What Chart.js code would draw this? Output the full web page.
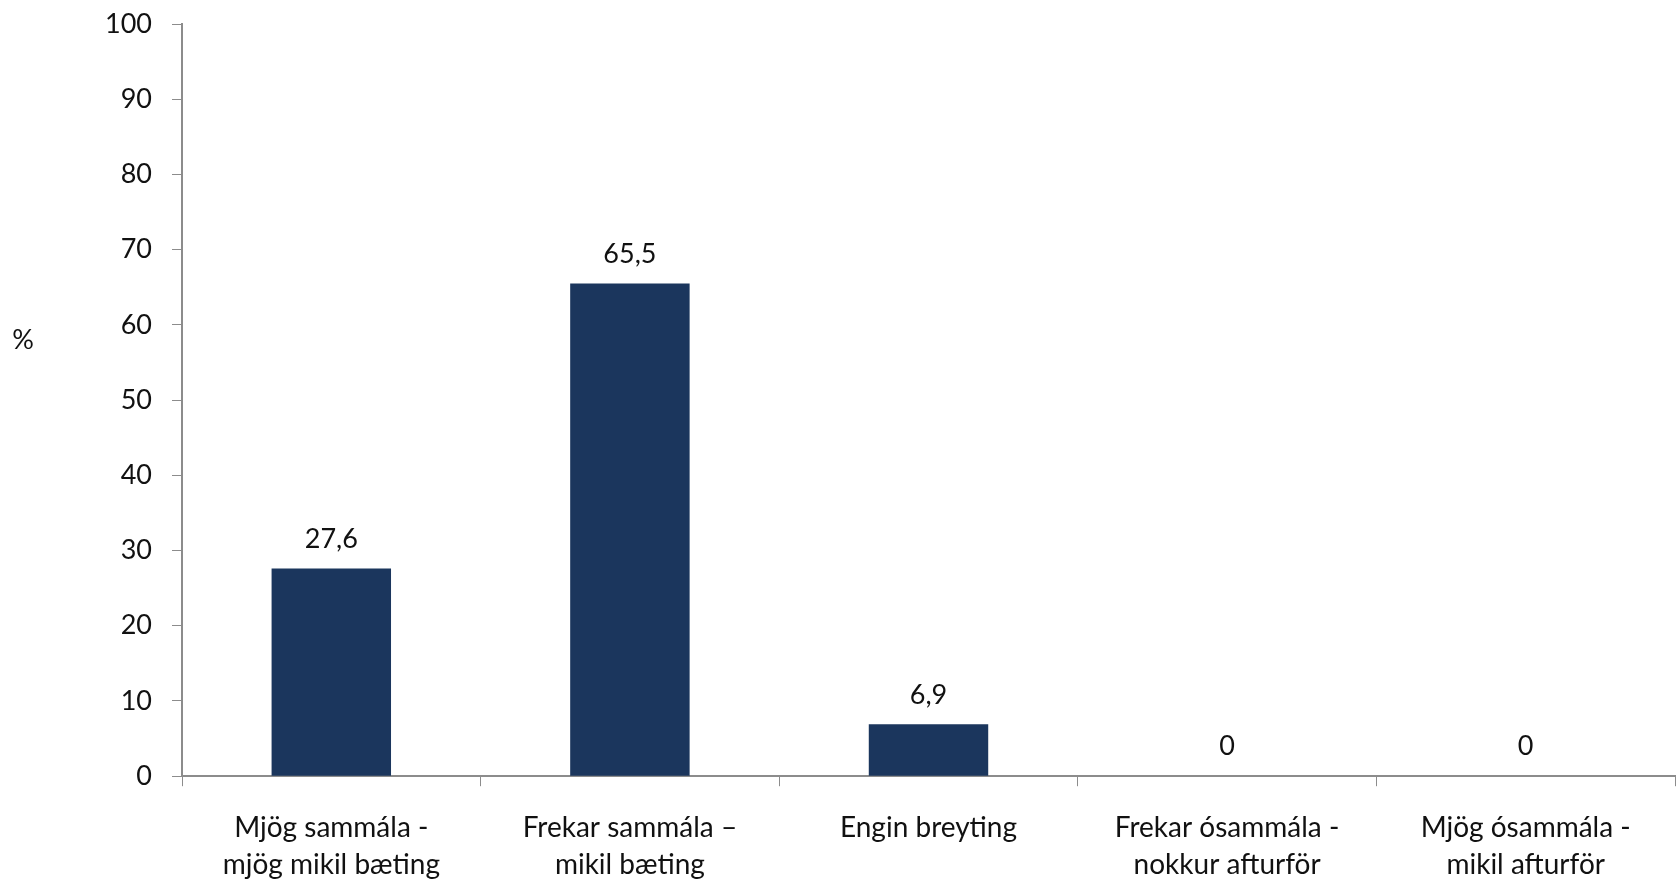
<!DOCTYPE html>
<html>
<head>
<meta charset="utf-8">
<script src="https://cdn.jsdelivr.net/npm/chart.js@4/dist/chart.umd.min.js"></script>
<style>
  html, body { margin: 0; padding: 0; background: #fff; }
  #wrap { width: 1678px; height: 880px; position: relative; }
</style>
</head>
<body>
<div id="wrap"><canvas id="chart"></canvas></div>
<script>
const categories = [
  ["Mjög sammála -", "mjög mikil bæting"],
  ["Frekar sammála –", "mikil bæting"],
  ["Engin breyting"],
  ["Frekar ósammála -", "nokkur afturför"],
  ["Mjög ósammála -", "mikil afturför"]
];
const values = [27.6, 65.5, 6.9, 0, 0];
const yTicks = [0, 10, 20, 30, 40, 50, 60, 70, 80, 90, 100];
const yTitle = "%";

const font = "Lato, 'Open Sans', sans-serif";
const axisColor = "#8c8c8c";

// value labels above the bars, Icelandic decimal comma
const valueLabels = {
  id: "valueLabels",
  afterDatasetsDraw(chart) {
    const ctx = chart.ctx;
    const meta = chart.getDatasetMeta(0);
    ctx.save();
    ctx.font = "27px " + font;
    ctx.fillStyle = "#111";
    ctx.textAlign = "center";
    ctx.textBaseline = "bottom";
    meta.data.forEach((bar, i) => {
      const txt = String(values[i]).replace(".", ",");
      ctx.fillText(txt, bar.x, bar.y - 16);
    });
    ctx.restore();
  }
};

// unrotated "%" axis title on the left
const yTitlePlugin = {
  id: "yTitle",
  afterDraw(chart) {
    const ctx = chart.ctx;
    const y = chart.scales.y;
    ctx.save();
    ctx.font = "27px " + font;
    ctx.fillStyle = "#111";
    ctx.textAlign = "center";
    ctx.textBaseline = "middle";
    ctx.fillText(yTitle, 23, y.getPixelForValue(58));
    ctx.restore();
  }
};

new Chart(document.getElementById("chart"), {
  type: "bar",
  data: {
    labels: categories,
    datasets: [{
      data: values,
      backgroundColor: "#1b365d",
      categoryPercentage: 0.4,
      barPercentage: 1.0
    }]
  },
  options: {
    responsive: true,
    maintainAspectRatio: false,
    animation: false,
    layout: { padding: { left: 40, right: 3, top: 3, bottom: -27 } },
    plugins: {
      legend: { display: false },
      tooltip: { enabled: false }
    },
    scales: {
      x: {
        grid: {
          offset: true,
          drawOnChartArea: false,
          drawTicks: true,
          tickLength: 10,
          color: axisColor
        },
        border: { color: axisColor, width: 2 },
        ticks: {
          color: "#111",
          font: { family: font, size: 28, lineHeight: 1.3 },
          padding: 24,
          maxRotation: 0,
          autoSkip: false
        }
      },
      y: {
        min: 0,
        max: 100,
        afterBuildTicks(scale) {
          scale.ticks = yTicks.map(v => ({ value: v }));
        },
        afterFit(scale) { scale.width = 142; },
        grid: {
          drawOnChartArea: false,
          tickLength: 10,
          color: axisColor
        },
        border: { color: axisColor, width: 2 },
        ticks: {
          color: "#111",
          font: { family: font, size: 27, lineHeight: 0.3 },
          padding: 20
        }
      }
    }
  },
  plugins: [valueLabels, yTitlePlugin]
});
</script>
</body>
</html>
